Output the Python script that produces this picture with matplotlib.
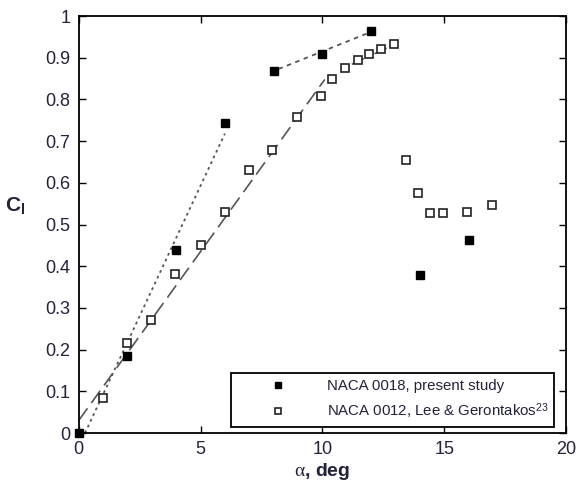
import numpy as np
import matplotlib
matplotlib.use("Agg")
import matplotlib.pyplot as plt

plt.rcParams["font.family"] = ["Liberation Sans", "DejaVu Sans"]
plt.rcParams["mathtext.fontset"] = "custom"
plt.rcParams["mathtext.rm"] = "Liberation Serif"
plt.rcParams["mathtext.it"] = "Liberation Serif:italic"
plt.rcParams["mathtext.bf"] = "Liberation Sans:bold"
plt.rcParams["mathtext.sf"] = "Liberation Sans"

# NACA 0018, present study (filled squares)
alpha_0018 = [0, 2, 4, 6, 8, 10, 12, 14, 16]
cl_0018 = [0.0, 0.185, 0.44, 0.744, 0.869, 0.908, 0.964, 0.379, 0.463]

# NACA 0012, Lee & Gerontakos (open squares)
alpha_0012 = [1.0, 2.0, 2.95, 3.97, 5.0, 5.99, 7.0, 7.95, 8.97, 9.94,
              10.41, 10.93, 11.45, 11.9, 12.41, 12.95,
              13.44, 13.94, 14.43, 14.96, 15.95, 16.96]
cl_0012 = [0.084, 0.216, 0.271, 0.381, 0.452, 0.53, 0.631, 0.679, 0.758, 0.808,
           0.85, 0.875, 0.894, 0.91, 0.92, 0.932,
           0.654, 0.575, 0.528, 0.528, 0.53, 0.547]

# linear fit lines (endpoints) drawn in the figure
fit_0018_low_x = [0.26, 6.0]
fit_0018_low_y = [0.0, 0.718]
fit_0018_high_x = [8.2, 12.0]
fit_0018_high_y = [0.873, 0.962]
fit_0012_low_x = [0.0, 10.1]
fit_0012_low_y = [0.03, 0.848]
fit_0012_high_x = [10.9, 13.0]
fit_0012_high_y = [0.876, 0.933]

x_ticks = [0, 5, 10, 15, 20]
y_ticks = [0, 0.1, 0.2, 0.3, 0.4, 0.5, 0.6, 0.7, 0.8, 0.9, 1]
y_tick_labels = ["0", "0.1", "0.2", "0.3", "0.4", "0.5", "0.6", "0.7", "0.8", "0.9", "1"]

text_color = "#22223a"
line_color = "#555555"

fig = plt.figure(figsize=(5.85, 4.86), dpi=100)
ax = fig.add_axes([0.1345, 0.109, 0.833, 0.858])

ax.plot(fit_0018_low_x, fit_0018_low_y, color=line_color, lw=1.3, ls=(0, (1.5, 2)))
ax.plot(fit_0018_high_x, fit_0018_high_y, color=line_color, lw=1.3, ls=(0, (2.5, 2.5)))
ax.plot(fit_0012_low_x, fit_0012_low_y, color=line_color, lw=1.2, ls=(0, (9, 4)))
ax.plot(fit_0012_high_x, fit_0012_high_y, color=line_color, lw=1.2, ls=(0, (3, 2)))

ax.plot(alpha_0018, cl_0018, ls="none", marker="s", ms=6,
        mfc="black", mec="black", clip_on=False, zorder=5,
        label="NACA 0018, present study")
ax.plot(alpha_0012, cl_0012, ls="none", marker="s", ms=6,
        mfc="white", mec="#222222", mew=1.2, clip_on=False, zorder=4,
        label=r"NACA 0012, Lee & Gerontakos$^{\mathsf{23}}$")

ax.set_xlim(0, 20)
ax.set_ylim(0, 1)
ax.set_xticks(x_ticks)
ax.set_xticklabels([str(t) for t in x_ticks])
ax.set_yticks(y_ticks)
ax.set_yticklabels(y_tick_labels)
ax.tick_params(direction="in", length=5, width=1, top=True, right=True,
               labelsize=13, labelcolor=text_color, pad=6)
for sp in ax.spines.values():
    sp.set_linewidth(1.3)

ax.set_xlabel(r"$\mathrm{\alpha}$, deg", fontsize=14, fontweight="bold",
              color=text_color, labelpad=2)
ax.set_ylabel(r"$\mathbf{C}_{\mathbf{l}}$", fontsize=15, color=text_color,
              rotation=0, labelpad=14)
ax.yaxis.set_label_coords(-0.13, 0.52)

leg = ax.legend(loc="lower right", bbox_to_anchor=(0.976, 0.014),
                fontsize=10.8, numpoints=1, markerscale=0.8,
                handlelength=5.5, handletextpad=0.47,
                labelspacing=0.55, borderpad=0.4, fancybox=False,
                framealpha=1, edgecolor="black", borderaxespad=0)
leg.get_frame().set_linewidth(1.3)
for t in leg.get_texts():
    t.set_color(text_color)

fig.savefig("out.png", dpi=100)
